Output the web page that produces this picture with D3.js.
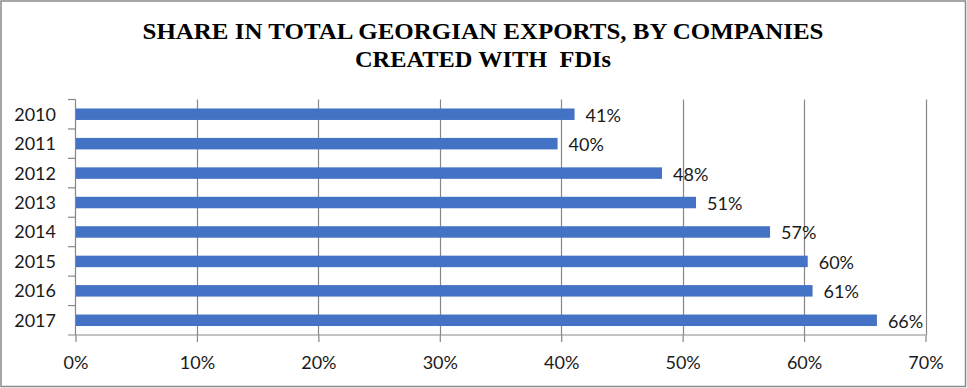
<!DOCTYPE html>
<html>
<head>
<meta charset="utf-8">
<script src="https://cdn.jsdelivr.net/npm/d3@7"></script>
<style>
  html, body { margin: 0; padding: 0; background: #fff; }
  svg { display: block; }
  .title { white-space: pre; }
</style>
</head>
<body>
<svg id="chart" width="967" height="388"></svg>
<script>
const years = ["2010", "2011", "2012", "2013", "2014", "2015", "2016", "2017"];
const shares = [0.411, 0.397, 0.483, 0.511, 0.572, 0.603, 0.607, 0.660];
const labels = ["41%", "40%", "48%", "51%", "57%", "60%", "61%", "66%"];
const xTicks = [0, 0.1, 0.2, 0.3, 0.4, 0.5, 0.6, 0.7];
const titleLines = ["SHARE IN TOTAL GEORGIAN EXPORTS, BY COMPANIES", "CREATED WITH  FDIs"];

const svg = d3.select("#chart");
const W = 967, H = 388;
const gridColor = "#878787";
const labelFont = "Lato, 'Open Sans', sans-serif";
const labelSize = 18;

// chart border
svg.append("rect")
  .attr("x", 1).attr("y", 1).attr("width", W - 2.5).attr("height", H - 2.5)
  .attr("fill", "#fff").attr("stroke", "#898989").attr("stroke-width", 1.5);

// title
const titleY = [38.5, 67];
const titleLen = [681, 256];
svg.selectAll("text.title").data(titleLines).join("text")
  .attr("class", "title")
  .attr("x", 483).attr("y", (d, i) => titleY[i])
  .attr("text-anchor", "middle")
  .attr("font-family", "'Liberation Serif', 'Times New Roman', serif")
  .attr("font-weight", "bold")
  .attr("font-size", 24)
  .attr("textLength", (d, i) => titleLen[i])
  .attr("lengthAdjust", "spacingAndGlyphs")
  .attr("fill", "#000")
  .text(d => d);

const plotTop = 99.5, plotBottom = 335;
const x = d3.scaleLinear().domain([0, 0.7]).range([75.5, 925.5]);
const y = d3.scaleBand().domain(years).range([plotTop, plotBottom])
  .paddingInner(0.61).paddingOuter(0.305);

// gridlines
svg.append("g").selectAll("line").data(xTicks.slice(1)).join("line")
  .attr("x1", d => Math.round(x(d)) + 0.5).attr("x2", d => Math.round(x(d)) + 0.5)
  .attr("y1", plotTop).attr("y2", plotBottom)
  .attr("stroke", gridColor).attr("stroke-width", 1.2);

// x axis
const xAxis = d3.axisBottom(x).tickValues(xTicks).tickFormat(d3.format(".0%")).tickSize(7).tickSizeOuter(0);
const gx = svg.append("g").attr("transform", `translate(0,${plotBottom})`).call(xAxis);
gx.select(".domain").remove();
gx.selectAll(".tick line").attr("stroke", gridColor).attr("stroke-width", 1.2);
gx.selectAll(".tick text")
  .attr("font-family", labelFont).attr("font-size", labelSize).attr("fill", "#1a1a1a")
  .attr("dy", 0).attr("y", 33.5);
svg.append("line")
  .attr("x1", 68).attr("x2", 925.5).attr("y1", plotBottom).attr("y2", plotBottom)
  .attr("stroke", gridColor).attr("stroke-width", 1.2);

// y axis line and category boundary ticks
svg.append("line")
  .attr("x1", 75.5).attr("x2", 75.5).attr("y1", plotTop).attr("y2", plotBottom)
  .attr("stroke", gridColor).attr("stroke-width", 1.2);
const step = y.step();
const gap = (step - y.bandwidth()) / 2;
svg.append("g").selectAll("line").data(years).join("line")
  .attr("x1", 68).attr("x2", 75.5)
  .attr("y1", d => y(d) - gap).attr("y2", d => y(d) - gap)
  .attr("stroke", gridColor).attr("stroke-width", 1.2);

// year labels
svg.append("g").selectAll("text").data(years).join("text")
  .attr("x", 56).attr("y", d => y(d) + y.bandwidth() / 2)
  .attr("dy", "0.36em")
  .attr("text-anchor", "end")
  .attr("font-family", labelFont).attr("font-size", labelSize).attr("fill", "#1a1a1a")
  .text(d => d);

// bars
svg.append("g").selectAll("rect").data(years).join("rect")
  .attr("x", x(0) + 0.5)
  .attr("y", d => y(d))
  .attr("width", (d, i) => x(shares[i]) - x(0) - 0.5)
  .attr("height", y.bandwidth())
  .attr("fill", "#4472C4");

// data labels
svg.append("g").selectAll("text").data(years).join("text")
  .attr("x", (d, i) => x(shares[i]) + 11)
  .attr("y", d => y(d) + y.bandwidth() / 2 + 1)
  .attr("dy", "0.36em")
  .attr("font-family", labelFont).attr("font-size", labelSize).attr("fill", "#1a1a1a")
  .text((d, i) => labels[i]);
</script>
</body>
</html>
